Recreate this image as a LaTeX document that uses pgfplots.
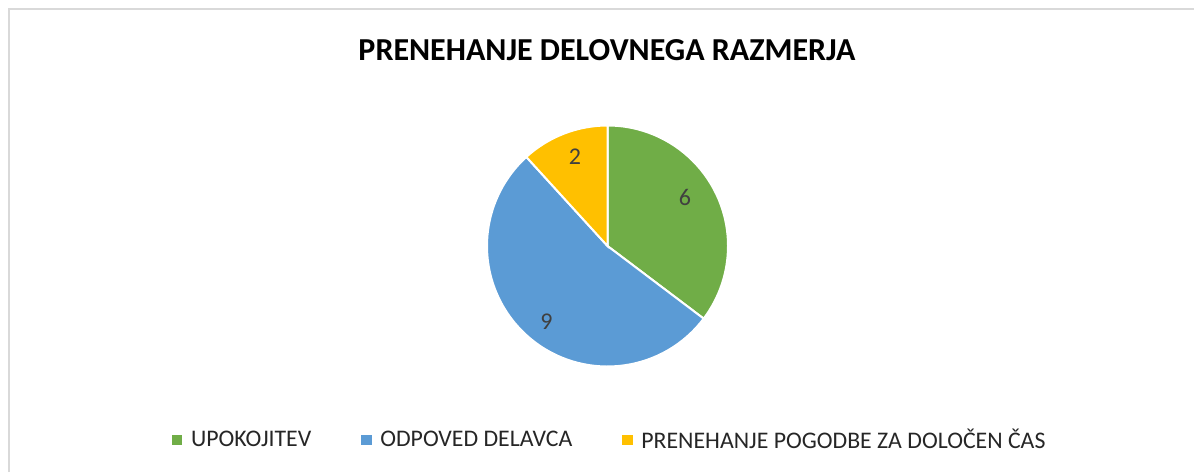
\documentclass[border=0pt]{standalone}
\usepackage{pgfplots}
\pgfplotsset{compat=1.18}
\usepackage{fontspec}
\setmainfont{Carlito}
\definecolor{cgreen}{HTML}{70AD47}
\definecolor{cblue}{HTML}{5B9BD5}
\definecolor{cyellow}{HTML}{FFC000}
\definecolor{ltxt}{HTML}{404040}
\definecolor{frame}{HTML}{D9D9D9}
\begin{document}
\begin{tikzpicture}
% values
\def\vA{6}\def\vB{9}\def\vC{2}
\pgfmathsetmacro\tot{\vA+\vB+\vC}
\pgfmathsetmacro\aA{90}
\pgfmathsetmacro\aB{\aA-360*\vA/\tot}
\pgfmathsetmacro\aC{\aB-360*\vB/\tot}
\pgfmathsetmacro\aD{\aC-360*\vC/\tot}
\def\R{60.25pt}
\begin{axis}[
  hide axis, scale only axis,
  width=597pt, height=236pt,
  xmin=0, xmax=1194, ymin=0, ymax=472,
  legend columns=-1,
  legend style={at={(0.5115,0.068)}, anchor=center, draw=none, fill=none,
    font=\fontsize{11.9}{14}\selectfont, text=black!85,
    /tikz/every odd column/.append style={column sep=2.5pt},
    /tikz/every even column/.append style={column sep=23pt}},
  legend image code/.code={\fill[#1] (0pt,-2.3pt) rectangle (4.6pt,2.3pt);},
]
\addlegendimage{cgreen}\addlegendentry{UPOKOJITEV}
\addlegendimage{cblue}\addlegendentry{ODPOVED DELAVCA}
\addlegendimage{cyellow}\addlegendentry{PRENEHANJE POGODBE ZA DOLOČEN ČAS}
\path (axis cs:0,0) (axis cs:1194,472);
\draw[frame, line width=1pt] (axis cs:9,0) -- (axis cs:9,462.5) -- (axis cs:1194,462.5);
\filldraw[fill=cgreen, draw=white, line width=1pt] (axis cs:607.5,226) -- ++(\aA:\R) arc[start angle=\aA, end angle=\aB, radius=\R] -- cycle;
\filldraw[fill=cblue, draw=white, line width=1pt] (axis cs:607.5,226) -- ++(\aB:\R) arc[start angle=\aB, end angle=\aC, radius=\R] -- cycle;
\filldraw[fill=cyellow, draw=white, line width=1pt] (axis cs:607.5,226) -- ++(\aC:\R) arc[start angle=\aC, end angle=\aD, radius=\R] -- cycle;
\node[text=ltxt, font=\fontsize{12}{14}\selectfont] at (axis cs:685,274.5) {\vA};
\node[text=ltxt, font=\fontsize{12}{14}\selectfont] at (axis cs:546.5,150.5) {\vB};
\node[text=ltxt, font=\fontsize{12}{14}\selectfont] at (axis cs:575,315.5) {\vC};
\node[font=\fontsize{16}{19}\selectfont\bfseries] at (axis cs:607,421.5) {PRENEHANJE DELOVNEGA RAZMERJA};
\end{axis}
\end{tikzpicture}
\end{document}
